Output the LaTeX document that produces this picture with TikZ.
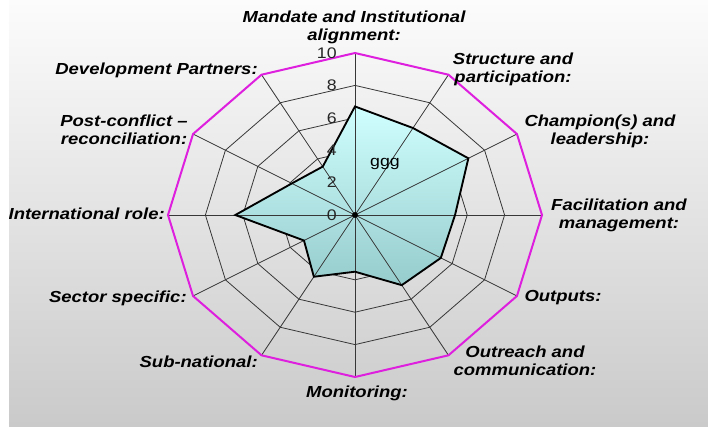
\documentclass[tikz,border=0pt]{standalone}
\usepackage{fontspec}
\setmainfont{Liberation Sans}
\definecolor{ringmag}{RGB}{222,32,222}
\definecolor{gridgray}{RGB}{55,55,55}
\definecolor{filltop}{RGB}{208,255,255}
\definecolor{fillbot}{RGB}{150,204,204}
\definecolor{bgtop}{RGB}{252,252,252}
\definecolor{bgbot}{RGB}{202,202,202}
\begin{document}
\begin{tikzpicture}[x=0.75pt,y=-0.75pt,
  lbl/.style={font=\fontsize{12}{13.4}\selectfont\bfseries\itshape, align=center, xscale=1.155, inner sep=0pt},
  ticklbl/.style={font=\fontsize{11.5}{13}\selectfont, xscale=1.155, anchor=east, inner sep=0pt, text=black!85},
  ring/.style={draw=gridgray, line width=0.6pt},
  spoke/.style={draw=gridgray, line width=0.6pt},
  outerring/.style={draw=ringmag, line width=1.5pt, line join=miter},
  dataline/.style={draw=black, line width=1.4pt, line join=miter}]
\useasboundingbox (0,0) rectangle (708,426);
\fill[white] (0,0) rectangle (708,426);
\shade[top color=bgtop, bottom color=bgbot] (9,0) rectangle (708,426);

\begin{scope}[shift={(355,215)}, x=14.025pt, y=12.15pt]
  \coordinate (c) at (0,0);
  % inner rings
  \foreach \r in {2,4,6,8} {
    \draw[ring] (90:\r) \foreach \a in {60,30,...,-240} { -- (\a:\r) } -- cycle;
  }
  % data
  \coordinate (d1) at (90:6.7);
  \coordinate (d2) at (60:6.2);
  \coordinate (d3) at (30:7.0);
  \coordinate (d4) at (0:5.35);
  \coordinate (d5) at (-30:5.3);
  \coordinate (d6) at (-60:5.0);
  \coordinate (d7) at (-90:3.5);
  \coordinate (d8) at (-120:4.4);
  \coordinate (d9) at (-150:3.15);
  \coordinate (d10) at (-180:6.4);
  \coordinate (d11) at (-210:3.9);
  \coordinate (d12) at (-240:3.45);
  \shade[top color=filltop, bottom color=fillbot]
    (d1) -- (d2) -- (d3) -- (d4) -- (d5) -- (d6) -- (d7) -- (d8) -- (d9) -- (d10) -- (d11) -- (d12) -- cycle;
  % spokes
  \foreach \a [count=\i] in {90,60,...,-240} {
    \coordinate (o\i) at (\a:10);
    \draw[spoke] (c) -- (o\i);
  }
  % outer ring
  \draw[outerring] (o1) -- (o2) -- (o3) -- (o4) -- (o5) -- (o6) -- (o7) -- (o8) -- (o9) -- (o10) -- (o11) -- (o12) -- cycle;
  \draw[dataline]
    (d1) -- (d2) -- (d3) -- (d4) -- (d5) -- (d6) -- (d7) -- (d8) -- (d9) -- (d10) -- (d11) -- (d12) -- cycle;
  \fill[black] (c) circle (2.2pt);
\end{scope}

% tick labels
\node[ticklbl] (t0) at (337,215) {0};
\node[ticklbl] (t2) at (337,182.6) {2};
\node[ticklbl] (t4) at (337,150.2) {4};
\node[ticklbl] (t6) at (337,117.8) {6};
\node[ticklbl] (t8) at (337,85.4) {8};
\node[ticklbl] (t10) at (337,53) {10};

\node[font=\fontsize{11.5}{13}\selectfont, xscale=1.155, inner sep=0pt] (ggg) at (385,164) {ggg};

% axis labels
\node[lbl] (l1) at (354,27) {Mandate and Institutional\\alignment:};
\node[lbl] (l2) at (513,69) {Structure and\\participation:};
\node[lbl] (l3) at (600,131) {Champion(s) and\\leadership:};
\node[lbl] (l4) at (619,215) {Facilitation and\\management:};
\node[lbl] (l5) at (563,298) {Outputs:};
\node[lbl] (l6) at (525,361) {Outreach and\\communication:};
\node[lbl] (l7) at (357,393) {Monitoring:};
\node[lbl, anchor=east] (l8) at (258,362) {Sub-national:};
\node[lbl, anchor=east] (l9) at (187,298) {Sector specific:};
\node[lbl, anchor=east] (l10) at (165,214) {International role:};
\node[lbl] (l11) at (124,130) {Post-conflict –\\reconciliation:};
\node[lbl, anchor=east] (l12) at (258,70) {Development Partners:};

\fill[white] (0,0) rectangle (9,426);
\end{tikzpicture}
\end{document}
